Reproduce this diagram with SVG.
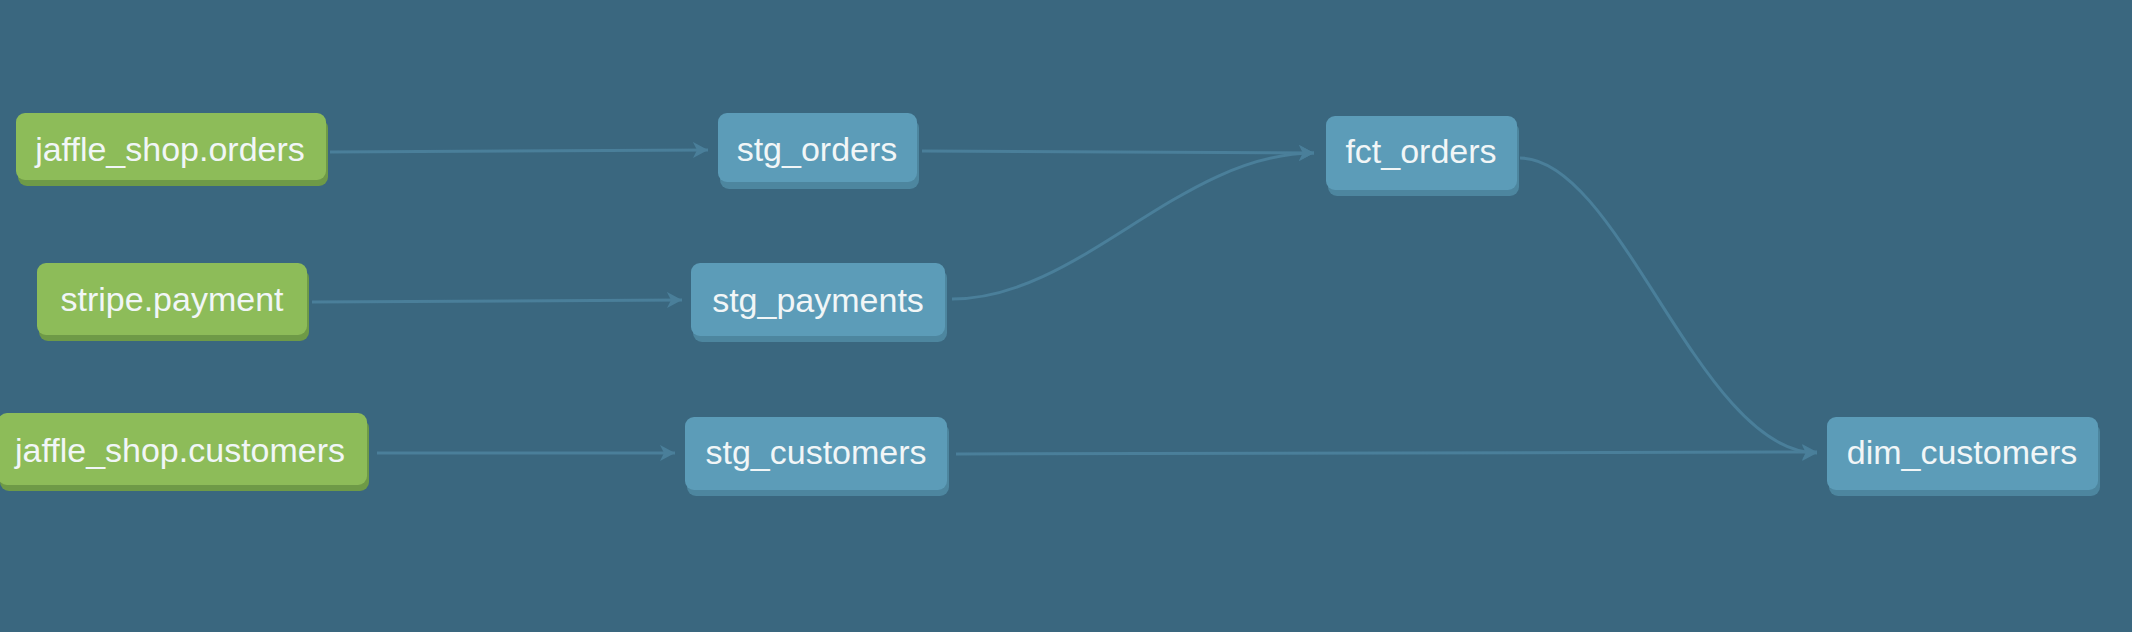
<svg xmlns="http://www.w3.org/2000/svg" width="2132" height="632" viewBox="0 0 2132 632">
<style>
.bg{fill:#3a677f}
.edge{fill:none;stroke:#4a7f9a;stroke-width:3;marker-end:url(#arr)}
.src .face{fill:#8dbc59}
.src .shadow{fill:#6e9a47}
.mdl .face{fill:#5c9cb8}
.mdl .shadow{fill:#4d869f}
.lbl{font-family:"Liberation Sans",Arial,sans-serif;font-size:34px;fill:#f1f6f7;text-anchor:middle}
</style>
<defs>
<marker id="arr" markerUnits="userSpaceOnUse" markerWidth="18" markerHeight="18" refX="15" refY="8" orient="auto">
<path d="M0,0 L15,8 L0,16 L4,8 Z" fill="#4a7f9a"/>
</marker>
</defs>
<rect class="bg" x="0" y="0" width="2132" height="632"/>
<g id="connectors">
<path class="edge" d="M330,152 L708,150"/>
<path class="edge" d="M922,151 L1314,153"/>
<path class="edge" d="M952,299 C1080,299 1180,153 1314,153"/>
<path class="edge" d="M312,302 L682,300"/>
<path class="edge" d="M377,453 L675,453"/>
<path class="edge" d="M956,454 L1817,452"/>
<path class="edge" d="M1520,158 C1620,158 1700,453 1817,453"/>
</g>
<g id="jaffle_shop_orders" class="src">
<rect class="shadow" x="18" y="119" width="310" height="67" rx="9"/>
<rect class="face" x="16" y="113" width="310" height="67" rx="9"/>
<text class="lbl" x="170" y="161">jaffle_shop.orders</text>
</g>
<g id="stripe_payment" class="src">
<rect class="shadow" x="39" y="269" width="270" height="72" rx="9"/>
<rect class="face" x="37" y="263" width="270" height="72" rx="9"/>
<text class="lbl" x="172" y="311">stripe.payment</text>
</g>
<g id="jaffle_shop_customers" class="src">
<rect class="shadow" x="0" y="419" width="369" height="72" rx="9"/>
<rect class="face" x="-2" y="413" width="369" height="72" rx="9"/>
<text class="lbl" x="180" y="462">jaffle_shop.customers</text>
</g>
<g id="stg_orders" class="mdl">
<rect class="shadow" x="720" y="119" width="199" height="70" rx="9"/>
<rect class="face" x="718" y="113" width="199" height="69" rx="9"/>
<text class="lbl" x="817" y="161">stg_orders</text>
</g>
<g id="stg_payments" class="mdl">
<rect class="shadow" x="693" y="269" width="254" height="73" rx="9"/>
<rect class="face" x="691" y="263" width="254" height="73" rx="9"/>
<text class="lbl" x="818" y="312">stg_payments</text>
</g>
<g id="stg_customers" class="mdl">
<rect class="shadow" x="687" y="423" width="262" height="73" rx="9"/>
<rect class="face" x="685" y="417" width="262" height="73" rx="9"/>
<text class="lbl" x="816" y="464">stg_customers</text>
</g>
<g id="fct_orders" class="mdl">
<rect class="shadow" x="1328" y="122" width="191" height="74" rx="9"/>
<rect class="face" x="1326" y="116" width="191" height="74" rx="9"/>
<text class="lbl" x="1421" y="163">fct_orders</text>
</g>
<g id="dim_customers" class="mdl">
<rect class="shadow" x="1829" y="423" width="271" height="73" rx="9"/>
<rect class="face" x="1827" y="417" width="271" height="73" rx="9"/>
<text class="lbl" x="1962" y="464">dim_customers</text>
</g>
</svg>
